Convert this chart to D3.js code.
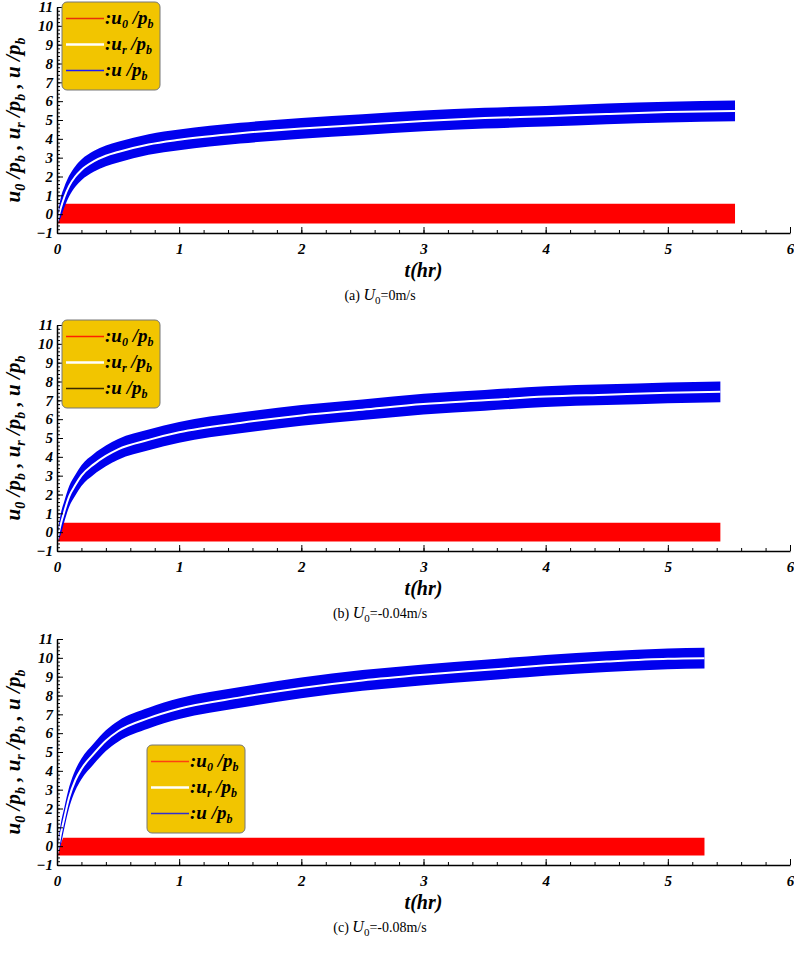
<!DOCTYPE html>
<html><head><meta charset="utf-8">
<script src="https://cdn.jsdelivr.net/npm/d3@7"></script>
<style>body{margin:0;background:#fff}</style>
</head><body><div id="chart"></div>
<script>
const width = 794, height = 954;
const serif = "'Times New Roman', 'Liberation Serif', 'DejaVu Serif', serif";

// time samples (hr)
const tA = [0, 0.03, 0.06, 0.1, 0.15, 0.2, 0.3, 0.4, 0.5, 0.75, 1, 1.5, 2, 2.5, 3, 3.5, 4, 4.5, 5];
// panel (a) U0 = 0 m/s
const midA = [-0.5, 0.3, 0.9, 1.5, 2.0, 2.35, 2.8, 3.1, 3.3, 3.7, 3.95, 4.3, 4.55, 4.75, 4.95, 5.1, 5.2, 5.32, 5.42];
const lowA = [-0.5, -0.2, 0.35, 0.95, 1.45, 1.8, 2.25, 2.55, 2.75, 3.15, 3.4, 3.75, 4.0, 4.2, 4.4, 4.55, 4.65, 4.77, 4.87];
const upA  = [-0.3, 0.85, 1.45, 2.05, 2.55, 2.9, 3.35, 3.65, 3.85, 4.25, 4.5, 4.85, 5.1, 5.3, 5.5, 5.65, 5.75, 5.87, 5.97];
// panel (b) U0 = -0.04 m/s
const midB = [-0.5, 0.4, 1.1, 1.9, 2.5, 3.0, 3.6, 4.05, 4.4, 4.9, 5.3, 5.8, 6.2, 6.5, 6.8, 7.0, 7.2, 7.3, 7.4];
const lowB = [-0.5, -0.15, 0.55, 1.35, 1.95, 2.45, 3.05, 3.5, 3.85, 4.35, 4.75, 5.25, 5.65, 5.95, 6.25, 6.45, 6.65, 6.75, 6.85];
const upB  = [-0.3, 0.95, 1.65, 2.45, 3.05, 3.55, 4.15, 4.6, 4.95, 5.45, 5.85, 6.35, 6.75, 7.05, 7.35, 7.55, 7.75, 7.85, 7.95];
// panel (c) U0 = -0.08 m/s
const midC = [-0.5, 0.6, 1.5, 2.6, 3.5, 4.1, 4.9, 5.6, 6.1, 6.8, 7.3, 7.9, 8.4, 8.8, 9.1, 9.35, 9.6, 9.8, 9.95];
const lowC = [-0.5, 0.05, 0.95, 2.05, 2.95, 3.55, 4.35, 5.05, 5.55, 6.25, 6.75, 7.35, 7.85, 8.25, 8.55, 8.8, 9.05, 9.25, 9.4];
const upC  = [-0.3, 1.15, 2.05, 3.15, 4.05, 4.65, 5.45, 6.15, 6.65, 7.35, 7.85, 8.45, 8.95, 9.35, 9.65, 9.9, 10.15, 10.35, 10.5];
// end times and values of each series
const tEnd = [5.55, 5.43, 5.3];
const endMid = [5.48, 7.45, 9.98];
const endLow = [4.93, 6.9, 9.43];
const endUp = [6.03, 8.0, 10.53];
// oscillating u0/pb band limits
const redLow = [-0.5, -0.5, -0.5];
const redUp = [0.55, 0.5, 0.45];
const captions = ["(a)", "(b)", "(c)"];
const u0Text = ["=0m/s", "=-0.04m/s", "=-0.08m/s"];
const legendColors = [["#e8300a", "#fff", "#1a1aff"], ["#ff2000", "#fff", "#3a2a00"], ["#ff4010", "#fff", "#3030d0"]];
const xTicks = [0, 1, 2, 3, 4, 5, 6];
const yTicks = d3.range(-1, 12);

const panels = [
  { top: 7, mids: midA, lows: lowA, ups: upA, legend: [62, 2] },
  { top: 325, mids: midB, lows: lowB, ups: upB, legend: [62, 320] },
  { top: 639, mids: midC, lows: lowC, ups: upC, legend: [147, 745] }
];

const svg = d3.select("#chart").append("svg").attr("width", width).attr("height", height)
  .style("font-family", serif);

panels.forEach((p, i) => {
  const x = d3.scaleLinear().domain([0, 6]).range([57, 790]);
  const y = d3.scaleLinear().domain([-1, 11]).range([p.top + 226, p.top]);
  const g = svg.append("g");

  const ts = tA.concat([tEnd[i]]);
  const low = p.lows.concat([endLow[i]]);
  const up = p.ups.concat([endUp[i]]);
  const mid = p.mids.concat([endMid[i]]);
  const rows = ts.map((t, k) => ({ t, lo: low[k], hi: up[k], m: mid[k] }));

  // red band
  g.append("path")
    .datum([{ t: 0, lo: -0.5, hi: -0.4 }, { t: 0.05, lo: redLow[i], hi: redUp[i] }, { t: tEnd[i], lo: redLow[i], hi: redUp[i] }])
    .attr("fill", "#ff0000")
    .attr("d", d3.area().x(d => x(d.t)).y0(d => y(d.lo)).y1(d => y(d.hi)));

  // blue band and white centre
  g.append("path").datum(rows).attr("fill", "#0000ee")
    .attr("d", d3.area().x(d => x(d.t)).y0(d => y(d.lo)).y1(d => y(d.hi)).curve(d3.curveMonotoneX));
  g.append("path").datum(rows).attr("fill", "none").attr("stroke", "#fff").attr("stroke-width", 2)
    .attr("d", d3.line().x(d => x(d.t)).y(d => y(d.m)).curve(d3.curveMonotoneX));

  // axes
  const xa = g.append("g").attr("transform", `translate(0,${y(-1)})`)
    .call(d3.axisBottom(x).tickValues(xTicks).tickSize(6).tickSizeOuter(0).tickFormat(d3.format("d")));
  g.append("g").attr("transform", `translate(0,${y(-1)})`)
    .call(d3.axisBottom(x).tickValues(d3.range(0, 6.01, 0.2)).tickSize(3).tickFormat("")).select(".domain").remove();
  const ya = g.append("g").attr("transform", `translate(${x(0)},0)`)
    .call(d3.axisLeft(y).tickValues(yTicks).tickSize(6).tickSizeOuter(0).tickFormat(d3.format("d")));
  g.append("g").attr("transform", `translate(${x(0)},0)`)
    .call(d3.axisLeft(y).tickValues(d3.range(-1, 11.01, 0.2)).tickSize(3).tickFormat("")).select(".domain").remove();
  g.selectAll("g").attr("font-family", null);
  // ticks point inward
  g.selectAll(".tick line").each(function () {
    const l = d3.select(this);
    if (l.attr("y2")) l.attr("y2", -l.attr("y2"));
    if (l.attr("x2")) l.attr("x2", -l.attr("x2"));
  });
  [xa, ya].forEach(a => {
    a.selectAll("path.domain").attr("stroke", "#000").attr("stroke-width", 1.5);
    a.selectAll("text").attr("font-style", "italic").attr("font-weight", "bold").attr("font-size", 15);
  });
  xa.selectAll("text").attr("y", 10).attr("dy", "0.71em");
  ya.selectAll("text").attr("x", -4);

  // x title
  g.append("text").attr("x", x(3)).attr("y", y(-1) + 44).attr("text-anchor", "middle")
    .attr("font-size", 20).attr("font-weight", "bold").attr("font-style", "italic").text("t(hr)");

  // caption
  const cap = g.append("text").attr("x", 380).attr("y", y(-1) + 67).attr("text-anchor", "middle").attr("font-size", 14);
  cap.append("tspan").text(captions[i] + "  ");
  cap.append("tspan").attr("font-style", "italic").attr("font-size", 16).text("U");
  cap.append("tspan").attr("font-size", 11).attr("dy", 4).text("0");
  cap.append("tspan").attr("dy", -4).text(u0Text[i]);

  // y title
  const yt = g.append("text").attr("transform", `translate(20,${y(5)}) rotate(-90)`)
    .attr("text-anchor", "middle").attr("font-size", 21).attr("font-weight", "bold").attr("font-style", "italic");
  [["u", "0", " /p", "b", " , "], ["u", "r", " /p", "b", " , "], ["u", "", " /p", "b", ""]].forEach(s => {
    yt.append("tspan").text(s[0]);
    if (s[1]) yt.append("tspan").attr("font-size", 14).attr("dy", 5).text(s[1]);
    yt.append("tspan").attr("dy", s[1] ? -5 : 0).text(s[2]);
    yt.append("tspan").attr("font-size", 14).attr("dy", 5).text(s[3]);
    yt.append("tspan").attr("dy", -5).text(s[4]);
  });

  // legend
  const [lx, ly] = p.legend;
  const lg = g.append("g").attr("transform", `translate(${lx},${ly})`);
  lg.append("rect").attr("width", 98).attr("height", 88).attr("rx", 5)
    .attr("fill", "#f2c500").attr("stroke", "#777").attr("stroke-width", 1);
  const names = [["u", "0"], ["u", "r"], ["u ", ""]];
  names.forEach((n, k) => {
    const yy = 16.5 + k * 26;
    lg.append("line").attr("x1", 4).attr("x2", 42).attr("y1", yy).attr("y2", yy)
      .attr("stroke", legendColors[i][k]).attr("stroke-width", k === 1 ? 2.5 : 1.5);
    const t = lg.append("text").attr("x", 43).attr("y", yy + 5).attr("font-size", 19)
      .attr("font-weight", "bold").attr("font-style", "italic");
    t.append("tspan").text(":" + n[0]);
    if (n[1]) t.append("tspan").attr("font-size", 12).attr("dy", 4).text(n[1]);
    t.append("tspan").attr("dy", n[1] ? -4 : 0).text(" /p");
    t.append("tspan").attr("font-size", 12).attr("dy", 4).text("b");
  });
});
</script></body></html>
